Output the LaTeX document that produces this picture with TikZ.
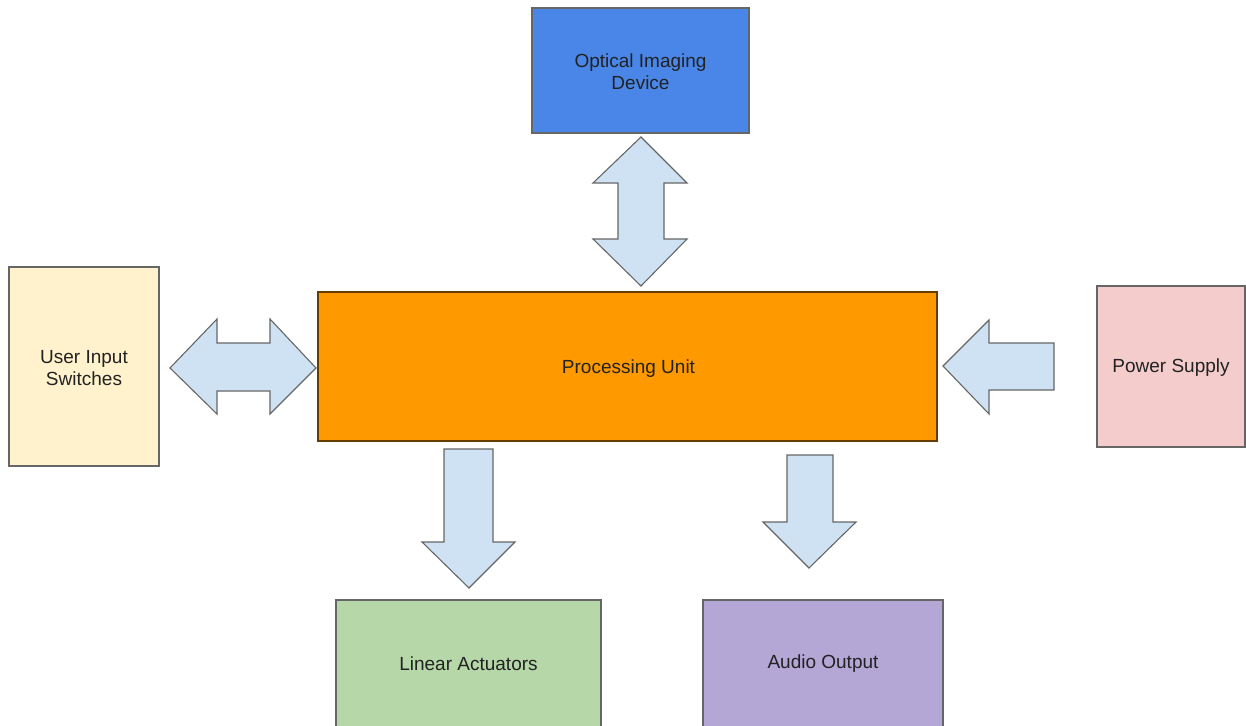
\documentclass[tikz,border=0pt]{standalone}
\usepackage{fontspec}
\setmainfont{Liberation Sans}
\definecolor{optblue}{HTML}{4A86E8}
\definecolor{procorange}{HTML}{FF9900}
\definecolor{userfill}{HTML}{FFF2CC}
\definecolor{powerfill}{HTML}{F4CCCC}
\definecolor{linfill}{HTML}{B6D7A8}
\definecolor{audiofill}{HTML}{B4A7D6}
\definecolor{arrowfill}{HTML}{CFE2F3}
\definecolor{edgegray}{HTML}{666666}
\definecolor{textgray}{HTML}{222222}
\begin{document}
\begin{tikzpicture}[x=1pt,y=-1pt,
  blockbox/.style={draw=edgegray,line width=1.1pt,text=textgray,align=center,font=\fontsize{19}{22}\selectfont},
  blockarrow/.style={draw=edgegray,fill=arrowfill,line width=1.1pt,line join=miter}]
\useasboundingbox (0,0) rectangle (1246,725);
% boxes
\draw[blockbox,fill=optblue] (532,8) rectangle (749,133);
\node[blockbox,draw=none] (opt) at (640.5,72) {Optical Imaging\\Device};
\draw[blockbox,fill=procorange,draw=black!60!procorange] (318,292) rectangle (937,441);
\node[blockbox,draw=none] (proc) at (628.5,369) {Processing Unit};
\draw[blockbox,fill=userfill,draw=gray!80!black] (9,267) rectangle (159,466);
\node[blockbox,draw=none] (user) at (84,368) {User Input\\Switches};
\draw[blockbox,fill=powerfill] (1097,286) rectangle (1245,447);
\node[blockbox,draw=none] (power) at (1171,368) {Power Supply};
\draw[blockbox,fill=linfill] (336,600) rectangle (601,728);
\node[blockbox,draw=none] (lin) at (468.5,664) {Linear Actuators};
\draw[blockbox,fill=audiofill] (703,600) rectangle (943,728);
\node[blockbox,draw=none] (audio) at (823,664) {Audio Output};
% vertical double arrow
\draw[blockarrow] (641,137) -- (687,183) -- (664,183) -- (664,239) -- (687,239)
  -- (641,286) -- (593,239) -- (618,239) -- (618,183) -- (593,183) -- cycle;
% horizontal double arrow
\draw[blockarrow] (170,368) -- (217,319) -- (217,343) -- (270,343) -- (270,319)
  -- (316,368) -- (270,414) -- (270,391) -- (217,391) -- (217,414) -- cycle;
% power arrow
\draw[blockarrow] (943,366) -- (989,320) -- (989,343) -- (1054,343) -- (1054,390)
  -- (989,390) -- (989,414) -- cycle;
% linear actuators arrow
\draw[blockarrow] (444,449) -- (493,449) -- (493,542) -- (515,542) -- (469,588)
  -- (422,542) -- (444,542) -- cycle;
% audio arrow
\draw[blockarrow] (787,455) -- (833,455) -- (833,522) -- (856,522) -- (809,568)
  -- (763,522) -- (787,522) -- cycle;
\end{tikzpicture}
\end{document}
